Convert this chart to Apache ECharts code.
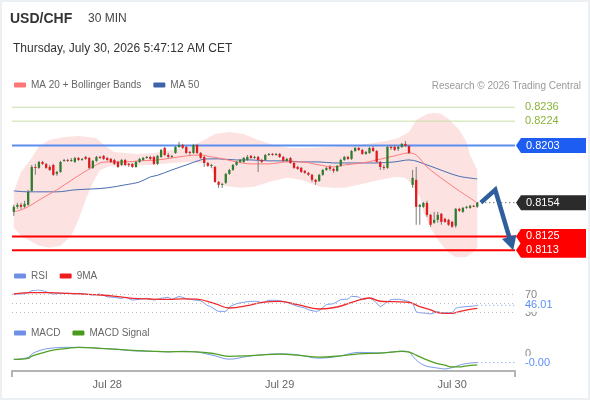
<!DOCTYPE html>
<html><head><meta charset="utf-8">
<script src="https://cdn.jsdelivr.net/npm/echarts/dist/echarts.min.js"></script>
<style>
html,body{margin:0;padding:0;background:#fff;}
#c{width:590px;height:400px;}
#frame{position:absolute;left:0;top:0;width:590px;height:400px;box-sizing:border-box;border:2px solid #edf0f3;pointer-events:none;}
</style></head><body>
<div id="c"></div><div id="frame"></div>
<script>
// ---------- DATA ----------
const dateTicks = {26:'Jul 28', 74:'Jul 29', 122:'Jul 30'};
const SLOTS = 140;
// [open, close, low, high] per 30-min bar
const candles = [
[0.81461,0.81504,0.81427,0.81521],[0.81504,0.81521,0.81487,0.81538],[0.81521,0.81504,0.81487,0.81538],[0.81504,0.81530,0.81495,0.81556],[0.81521,0.81633,0.81513,0.81650],
[0.81641,0.81847,0.81633,0.81864],[0.81847,0.81839,0.81779,0.81873],[0.81839,0.81890,0.81830,0.81899],[0.81890,0.81873,0.81864,0.81899],[0.81873,0.81839,0.81830,0.81881],
[0.81847,0.81821,0.81813,0.81864],[0.81864,0.81779,0.81770,0.81873],[0.81787,0.81804,0.81770,0.81813],[0.81804,0.81890,0.81796,0.81899],[0.81899,0.81907,0.81890,0.81916],
[0.81907,0.81899,0.81890,0.81916],[0.81899,0.81907,0.81890,0.81924],[0.81890,0.81924,0.81881,0.81933],[0.81924,0.81907,0.81899,0.81933],[0.81907,0.81916,0.81899,0.81924],
[0.81933,0.81916,0.81907,0.81942],[0.81924,0.81839,0.81830,0.81933],[0.81839,0.81899,0.81830,0.81907],[0.81899,0.81933,0.81890,0.81942],[0.81933,0.81924,0.81916,0.81942],
[0.81942,0.81916,0.81907,0.81950],[0.81924,0.81907,0.81899,0.81933],[0.81916,0.81890,0.81881,0.81924],[0.81907,0.81873,0.81864,0.81916],[0.81890,0.81847,0.81839,0.81899],
[0.81864,0.81907,0.81856,0.81916],[0.81907,0.81864,0.81856,0.81916],[0.81873,0.81864,0.81847,0.81881],[0.81873,0.81847,0.81839,0.81881],[0.81847,0.81890,0.81839,0.81899],
[0.81890,0.81916,0.81881,0.81924],[0.81907,0.81924,0.81899,0.81933],[0.81924,0.81933,0.81916,0.81942],[0.81933,0.81916,0.81907,0.81942],[0.81933,0.81873,0.81864,0.81942],
[0.81873,0.81942,0.81864,0.81950],[0.81933,0.81993,0.81924,0.82002],[0.82010,0.81950,0.81942,0.82019],[0.81950,0.81933,0.81924,0.81967],[0.81933,0.81942,0.81924,0.81950],
[0.81967,0.82019,0.81959,0.82027],[0.82019,0.82036,0.82010,0.82062],[0.82036,0.82010,0.82002,0.82045],[0.82019,0.81967,0.81959,0.82027],[0.81976,0.81967,0.81950,0.81984],
[0.81967,0.82036,0.81959,0.82045],[0.82036,0.81967,0.81959,0.82045],[0.81967,0.81924,0.81916,0.81976],[0.81933,0.81881,0.81847,0.81942],[0.81881,0.81856,0.81847,0.81890],
[0.81856,0.81864,0.81839,0.81873],[0.81847,0.81718,0.81710,0.81856],[0.81718,0.81693,0.81667,0.81727],[0.81693,0.81701,0.81667,0.81710],[0.81710,0.81787,0.81701,0.81796],
[0.81787,0.81821,0.81779,0.81830],[0.81821,0.81864,0.81813,0.81873],[0.81864,0.81890,0.81856,0.81899],[0.81890,0.81907,0.81881,0.81916],[0.81890,0.81924,0.81881,0.81933],
[0.81907,0.81933,0.81899,0.81950],[0.81942,0.81924,0.81916,0.81950],[0.81924,0.81933,0.81916,0.81942],[0.81933,0.81907,0.81804,0.81942],[0.81907,0.81890,0.81881,0.81916],
[0.81907,0.81950,0.81899,0.81959],[0.81950,0.81959,0.81942,0.81967],[0.81959,0.81950,0.81942,0.81967],[0.81950,0.81959,0.81942,0.81967],[0.81959,0.81933,0.81924,0.81967],
[0.81933,0.81899,0.81890,0.81942],[0.81899,0.81916,0.81890,0.81924],[0.81924,0.81881,0.81873,0.81933],[0.81881,0.81839,0.81830,0.81890],[0.81847,0.81830,0.81821,0.81856],
[0.81839,0.81804,0.81796,0.81847],[0.81813,0.81796,0.81787,0.81821],[0.81796,0.81779,0.81770,0.81804],[0.81779,0.81736,0.81718,0.81787],[0.81736,0.81718,0.81693,0.81744],
[0.81727,0.81779,0.81718,0.81787],[0.81779,0.81821,0.81770,0.81830],[0.81821,0.81839,0.81813,0.81847],[0.81847,0.81830,0.81813,0.81864],[0.81830,0.81813,0.81796,0.81839],
[0.81813,0.81856,0.81804,0.81864],[0.81856,0.81907,0.81847,0.81916],[0.81907,0.81933,0.81899,0.81942],[0.81933,0.81916,0.81907,0.81942],[0.81916,0.81984,0.81907,0.81993],
[0.81984,0.82010,0.81976,0.82019],[0.82010,0.81993,0.81984,0.82019],[0.81993,0.81959,0.81950,0.82002],[0.81959,0.81976,0.81950,0.81984],[0.81967,0.82010,0.81959,0.82019],
[0.82010,0.81984,0.81976,0.82027],[0.81984,0.81890,0.81881,0.81993],[0.81890,0.81847,0.81821,0.81899],[0.81847,0.81839,0.81821,0.81864],[0.81839,0.82019,0.81830,0.82027],
[0.82019,0.82010,0.81993,0.82036],[0.82019,0.81993,0.81984,0.82036],[0.82002,0.82019,0.81984,0.82036],[0.82019,0.82045,0.82010,0.82053],[0.82045,0.82027,0.82019,0.82070],
[0.82027,0.81967,0.81959,0.82036],[0.81693,0.81753,0.81667,0.81821],[0.81736,0.81504,0.81350,0.81847],[0.81504,0.81521,0.81350,0.81530],[0.81504,0.81538,0.81495,0.81547],
[0.81538,0.81435,0.81418,0.81556],[0.81435,0.81350,0.81333,0.81444],[0.81367,0.81392,0.81358,0.81461],[0.81392,0.81435,0.81367,0.81461],[0.81444,0.81375,0.81350,0.81452],
[0.81401,0.81375,0.81367,0.81410],[0.81392,0.81350,0.81341,0.81401],[0.81375,0.81333,0.81324,0.81384],[0.81341,0.81487,0.81324,0.81495],[0.81487,0.81470,0.81461,0.81495],
[0.81461,0.81495,0.81452,0.81504],[0.81495,0.81504,0.81487,0.81513],[0.81495,0.81513,0.81487,0.81521],[0.81513,0.81508,0.81504,0.81521],[0.81504,0.81538,0.81495,0.81547]
];
const ma20 = [[0,0.81461],[2,0.81478],[4,0.81504],[8,0.81581],[12,0.81650],[17,0.81753],[22,0.81847],[24,0.81881],[26,0.81890],[31,0.81890],[35,0.81899],[40,0.81907],[44,0.81924],[48,0.81942],[52,0.81950],[55,0.81933],[57,0.81924],[62,0.81890],[66,0.81873],[71,0.81873],[76,0.81890],[80,0.81890],[85,0.81864],[89,0.81847],[92,0.81864],[97,0.81881],[101,0.81907],[106,0.81942],[110,0.81967],[112,0.81950],[115,0.81847],[120,0.81727],[124,0.81641],[129,0.81538]];
const ma50 = [[0,0.81641],[4,0.81633],[8,0.81633],[12,0.81633],[17,0.81650],[22,0.81658],[26,0.81667],[31,0.81693],[35,0.81718],[38,0.81761],[40,0.81775],[44,0.81821],[48,0.81864],[52,0.81907],[54,0.81916],[57,0.81916],[62,0.81907],[66,0.81907],[71,0.81899],[76,0.81899],[80,0.81890],[85,0.81890],[89,0.81881],[92,0.81881],[97,0.81881],[101,0.81881],[106,0.81890],[110,0.81907],[115,0.81864],[120,0.81807],[124,0.81766],[129,0.81744]];
const bbUpper = [[0,0.81633],[2,0.81804],[5,0.81924],[7,0.82027],[10,0.82079],[14,0.82105],[18,0.82113],[23,0.82096],[25,0.82036],[28,0.81976],[34,0.81959],[39,0.81967],[44,0.81993],[49,0.82019],[53,0.82079],[56,0.82130],[60,0.82147],[64,0.82130],[68,0.82079],[73,0.82027],[77,0.82010],[82,0.82010],[88,0.82019],[92,0.82027],[96,0.82036],[100,0.82053],[105,0.82079],[107,0.82096],[110,0.82147],[112,0.82250],[115,0.82302],[117,0.82310],[119,0.82302],[121,0.82259],[124,0.82164],[126,0.82062],[127,0.81950],[129,0.81821]];
const bbLower = [[0,0.81324],[2,0.81255],[5,0.81204],[7,0.81169],[10,0.81152],[13,0.81169],[16,0.81255],[18,0.81392],[20,0.81564],[22,0.81710],[24,0.81821],[27,0.81856],[32,0.81856],[38,0.81864],[44,0.81881],[49,0.81890],[52,0.81881],[54,0.81881],[56,0.81770],[57,0.81701],[59,0.81684],[63,0.81667],[67,0.81676],[71,0.81718],[76,0.81753],[80,0.81736],[85,0.81676],[89,0.81667],[92,0.81667],[96,0.81693],[102,0.81736],[106,0.81761],[109,0.81753],[111,0.81693],[113,0.81590],[114,0.81461],[116,0.81324],[118,0.81221],[121,0.81109],[123,0.81074],[126,0.81074],[128,0.81118],[129,0.81161]];
const resistanceLevels = [0.8236, 0.8224];
const pivotLevel = 0.8203;
const supportLevels = [0.8125, 0.8113];
const lastPrice = 0.8154;
const projX = [130, 134, 139];
const projY = [0.8154, 0.8165, 0.8113];
const rsi = [[0,71],[2,71],[4,74],[5,78.5],[7,80],[9,76],[11,71],[13,72.6],[15,72.6],[17,71],[18,72.6],[20,71],[22,69],[24,71],[26,65],[28,63.7],[30,61.5],[31,63.7],[33,57.8],[35,59.3],[37,61.5],[39,57.8],[41,61.5],[43,63.7],[44,59.3],[46,65.5],[48,61],[50,58],[52,56],[54,45.2],[55,42.2],[57,32.6],[59,32.6],[60,42.2],[62,49.6],[64,52.6],[66,54.8],[68,54.8],[69,51.1],[71,57],[73,57],[75,54.8],[77,49.6],[79,43.7],[81,40],[82,36.3],[84,32.6],[85,34.1],[87,47.4],[89,49.6],[91,58.5],[93,60],[94,65.9],[96,64.4],[97,58.5],[99,62.2],[101,51.1],[102,43],[103,48],[105,58.5],[107,59.3],[109,56.3],[111,50.4],[112,32],[113,29.6],[115,28.2],[116,26.7],[118,32],[119,29.6],[120,29.6],[122,29.6],[123,39.3],[124,41.5],[126,43],[128,44.5],[129,46.01]];
const rsiMa = [[0,71.1],[5,74.1],[10,74.1],[15,72.6],[19,71.1],[24,68.9],[29,65.2],[33,61.5],[38,60],[43,59.3],[47,60.5],[51,59.5],[56,49.6],[60,40],[65,45.2],[69,52.6],[74,54.8],[79,47.4],[85,37.8],[90,42.2],[95,54.8],[99,62.2],[102,55],[106,54],[110,52.6],[113,43],[116,35.6],[118,29.6],[120,28.2],[122,28.2],[124,32],[127,37],[129,39.3]];
const rsiLevels = [70, 50, 30];
const macd = [[0,-0.00053],[4,-0.00033],[5,0],[7,0.00033],[10,0.00057],[15,0.00067],[19,0.00067],[24,0.00057],[29,0.00047],[33,0.00033],[38,0.00027],[43,0.00023],[47,0.00028],[51,0.0002],[56,-0.00017],[60,-0.0005],[65,-0.00023],[69,-0.00007],[74,0.00003],[79,-0.00007],[85,-0.0004],[91,-0.00017],[96,0.00017],[102,0.00012],[105,0.0002],[108,0.0003],[110,0.00023],[111,-0.0002],[113,-0.00087],[115,-0.0012],[117,-0.00133],[119,-0.00143],[120,-0.00147],[122,-0.00133],[124,-0.0011],[126,-0.00093],[129,-0.00083]];
const macdSignal = [[0,-0.00053],[4,-0.00043],[5,-0.0002],[8,0.00013],[11,0.0004],[15,0.00057],[18,0.00067],[24,0.00057],[29,0.00047],[33,0.00037],[38,0.0003],[43,0.00023],[47,0.00025],[51,0.00023],[56,0.00003],[60,-0.00023],[65,-0.00017],[69,-0.00007],[74,0],[79,-0.0001],[85,-0.0003],[91,-0.00017],[96,0.00003],[102,0.0001],[105,0.0002],[108,0.00027],[110,0.0002],[112,-0.0001],[114,-0.00043],[117,-0.00083],[120,-0.0011],[122,-0.00127],[124,-0.00127],[126,-0.00117],[129,-0.00107]];

// ---------- LAYOUT ----------
const FONT = '"Liberation Sans", Arial, Helvetica, sans-serif';
const X_MIN = -0.5, X_MAX = SLOTS - 0.5;
const G = {left:12, right:75};
const slotCats = Array.from({length:SLOTS}, (_, i) => dateTicks[i] || '');
const lastIdx = candles.length - 1;

const chart = echarts.init(document.getElementById('c'), null, {renderer:'canvas'});

const lineBase = {type:'line', showSymbol:false, symbol:'none', silent:true, animation:false};
const legendBase = {padding:0, itemWidth:12, itemHeight:5, itemGap:12, icon:'roundRect', selectedMode:false,
  textStyle:{fontSize:10, color:'#666', fontFamily:FONT}};

function sideText(text, x, y, color, bg) {
  const s = {text, x, y, fill:color, fontSize:11, fontFamily:FONT, verticalAlign:'middle', textAlign:'left'};
  if (bg) { s.backgroundColor = '#fff'; s.padding = [1,2,1,0]; }
  return {type:'text', style:s};
}

const levelSpecs = [
  ...resistanceLevels.map(v => ({v, stroke:'#c8e0a6', width:1, label:'#8ab43a'})),
  {v: pivotLevel, stroke:'#5b8def', width:2, label:null},
  ...supportLevels.map(v => ({v, stroke:'#ff0000', width:2, label:null}))
];
const tagSpecs = [
  {v: pivotLevel, fill:'#1d5df2'},
  {v: lastPrice, fill:'#2b2b2b'},
  {v: supportLevels[0], fill:'#ff0000'},
  {v: supportLevels[1], fill:'#ff0000'}
];

const option = {
  animation:false,
  backgroundColor:'#fff',
  textStyle:{fontFamily:FONT},
  title:[
    {text:'USD/CHF', left:10, top:12, padding:0, textStyle:{fontSize:14, fontWeight:'bold', color:'#333', fontFamily:FONT}},
    {text:'30 MIN', left:88, top:13, padding:0, textStyle:{fontSize:12, fontWeight:'normal', color:'#444', fontFamily:FONT}},
    {text:'Thursday, July 30, 2026 5:47:12 AM CET', left:13, top:43, padding:0, textStyle:{fontSize:12, fontWeight:'normal', color:'#333', fontFamily:FONT}},
    {text:'Research \u00a9 2026 Trading Central', right:9, top:81, padding:0, textStyle:{fontSize:10, fontWeight:'normal', color:'#9a9a9a', fontFamily:FONT}}
  ],
  legend:[
    Object.assign({data:['MA 20 + Bollinger Bands','MA 50'], left:14, top:80}, legendBase),
    Object.assign({data:['RSI','9MA'], left:14, top:271}, legendBase),
    Object.assign({data:['MACD','MACD Signal'], left:14, top:328}, legendBase)
  ],
  grid:[
    {left:G.left, right:G.right, top:95, height:167, containLabel:false, outerBoundsMode:'none'},
    {left:G.left, right:G.right, top:290, height:27, containLabel:false, outerBoundsMode:'none'},
    {left:G.left, right:G.right, top:344, height:27, containLabel:false, outerBoundsMode:'none'}
  ],
  xAxis:[
    {type:'value', gridIndex:0, min:X_MIN, max:X_MAX, show:false},
    {type:'value', gridIndex:1, min:X_MIN, max:X_MAX, show:false},
    {type:'value', gridIndex:2, min:X_MIN, max:X_MAX, interval:SLOTS, position:'bottom',
      axisLine:{show:true, onZero:false, lineStyle:{color:'#b4b4b4', width:2}},
      axisTick:{show:true, length:6, lineStyle:{color:'#b4b4b4', width:2}},
      axisLabel:{show:false}, splitLine:{show:false}},
    {type:'category', gridIndex:2, data:slotCats, position:'bottom', boundaryGap:true,
      axisLine:{show:false, onZero:false}, axisTick:{show:false}, splitLine:{show:false},
      axisLabel:{show:true, interval:(idx) => !!dateTicks[idx], color:'#666', fontSize:11, fontFamily:FONT, margin:8}}
  ],
  yAxis:[
    {type:'value', gridIndex:0, min:0.8103, max:0.82465, show:false},
    {type:'value', gridIndex:1, min:20, max:80, show:false},
    {type:'value', gridIndex:2, min:-0.00167, max:0.001, show:false}
  ],
  series:[
    // Bollinger band fill
    {type:'custom', name:'BB', xAxisIndex:0, yAxisIndex:0, silent:true, z:1, data:[[0]],
      renderItem:(params, api) => {
        const pts = bbUpper.map(p => api.coord(p)).concat(bbLower.slice().reverse().map(p => api.coord(p)));
        return {type:'polygon', shape:{points:pts}, style:{fill:'#fde2e2'}};
      }},
    // horizontal levels
    {type:'custom', name:'levels', xAxisIndex:0, yAxisIndex:0, silent:true, clip:false, z:2,
      data:levelSpecs.map(s => [X_MIN, s.v]),
      renderItem:(params, api) => {
        const s = levelSpecs[params.dataIndex];
        const a = api.coord([X_MIN, api.value(1)]), b = api.coord([X_MAX, api.value(1)]);
        const kids = [{type:'line', shape:{x1:a[0], y1:a[1], x2:b[0], y2:b[1]}, style:{stroke:s.stroke, lineWidth:s.width}}];
        if (s.label) kids.push(sideText(api.value(1).toFixed(4), b[0]+10, b[1], s.label, false));
        return {type:'group', children:kids};
      }},
    Object.assign({}, lineBase, {name:'MA 50', xAxisIndex:0, yAxisIndex:0, data:ma50, smooth:0.35, z:3,
      color:'#3d64aa', lineStyle:{color:'#4a6db0', width:1}}),
    Object.assign({}, lineBase, {name:'MA 20 + Bollinger Bands', xAxisIndex:0, yAxisIndex:0, data:ma20, smooth:0.35, z:3,
      color:'#ff7676', lineStyle:{color:'#ff7b7b', width:1}}),
    // candles
    {type:'custom', name:'USD/CHF', xAxisIndex:0, yAxisIndex:0, z:5, silent:true,
      encode:{x:0, y:[1,2,3,4]},
      data:candles.map((d, i) => [i, d[0], d[1], d[2], d[3]]),
      renderItem:(params, api) => {
        const i = api.value(0), o = api.value(1), c = api.value(2), l = api.value(3), h = api.value(4);
        const po = api.coord([i,o]), pc = api.coord([i,c]), pl = api.coord([i,l]), ph = api.coord([i,h]);
        const w = api.size([1,0])[0] * 0.64;
        const x = po[0];
        const top = Math.min(po[1], pc[1]);
        const hgt = Math.max(Math.abs(po[1]-pc[1]), 1);
        const up = c >= o;
        return {type:'group', children:[
          {type:'line', shape:{x1:x, y1:ph[1], x2:x, y2:pl[1]}, style:{stroke:'#7a7a7a', lineWidth:1}},
          {type:'rect', shape:{x:x-w/2, y:top, width:w, height:hgt}, style:{fill: up ? '#2e7d2e' : '#e3191c'}}
        ]};
      }},
    // dotted last-price line
    Object.assign({}, lineBase, {name:'last', xAxisIndex:0, yAxisIndex:0, z:4,
      data:[[lastIdx, lastPrice],[X_MAX, lastPrice]], lineStyle:{color:'#444', width:1, type:[1,3]}}),
    // projection arrow
    {type:'custom', name:'proj', xAxisIndex:0, yAxisIndex:0, clip:false, z:15, silent:true, data:[[projX[0], projY[0]]],
      renderItem:(params, api) => {
        const pts = projX.map((x, k) => api.coord([x, projY[k]]));
        const n = pts.length, tip = pts[n-1], prev = pts[n-2];
        const dx = tip[0]-prev[0], dy = tip[1]-prev[1], len = Math.hypot(dx, dy);
        const ux = dx/len, uy = dy/len, headLen = 14, headW = 7.5;
        const base = [tip[0]-ux*headLen, tip[1]-uy*headLen];
        return {type:'group', children:[
          {type:'polyline', shape:{points:pts.slice(0, n-1).concat([[base[0]+ux*2, base[1]+uy*2]])},
            style:{stroke:'#2f5e9c', lineWidth:4.5, fill:null, lineJoin:'miter'}},
          {type:'polygon', shape:{points:[tip, [base[0]-uy*headW, base[1]+ux*headW], [base[0]+uy*headW, base[1]-ux*headW]]},
            style:{fill:'#2f5e9c'}}
        ]};
      }},
    // price tags
    {type:'custom', name:'tags', xAxisIndex:0, yAxisIndex:0, clip:false, z:20, silent:true,
      data:tagSpecs.map(t => [X_MAX, t.v]),
      renderItem:(params, api) => {
        const t = tagSpecs[params.dataIndex];
        const p = api.coord([api.value(0), api.value(1)]);
        const x = p[0], y = p[1];
        return {type:'group', children:[
          {type:'polygon', shape:{points:[[x+1,y],[x+6,y-7.5],[x+71,y-7.5],[x+71,y+7.5],[x+6,y+7.5]]}, style:{fill:t.fill}},
          {type:'text', style:{text:api.value(1).toFixed(4), x:x+11, y:y, fill:'#fff', fontSize:11, fontFamily:FONT, verticalAlign:'middle', textAlign:'left'}}
        ]};
      }},
    // RSI
    Object.assign({}, lineBase, {name:'RSI', xAxisIndex:1, yAxisIndex:1, data:rsi, smooth:0.2, z:3,
      color:'#6f8fe6', lineStyle:{color:'#7899ea', width:1},
      markLine:{silent:true, symbol:['none','none'], animation:false, label:{show:false},
        lineStyle:{color:'#bdbdbd', width:1, type:[1,3]},
        data:rsiLevels.map(v => ({yAxis:v}))}}),
    Object.assign({}, lineBase, {name:'9MA', xAxisIndex:1, yAxisIndex:1, data:rsiMa, smooth:0.4, z:4,
      color:'#ee1c1c', lineStyle:{color:'#f02a2a', width:1.3}}),
    {type:'custom', name:'rsiSide', xAxisIndex:1, yAxisIndex:1, clip:false, z:20, silent:true,
      data:[rsi[rsi.length-1]],
      renderItem:(params, api) => {
        const p = api.coord([api.value(0), api.value(1)]);
        const e = api.coord([X_MAX, api.value(1)]);
        const l70 = api.coord([X_MAX, rsiLevels[0]]), l30 = api.coord([X_MAX, rsiLevels[2]]);
        return {type:'group', children:[
          sideText(String(rsiLevels[0]), l70[0]+10, l70[1], '#888', false),
          sideText(String(rsiLevels[2]), l30[0]+10, l30[1], '#888', false),
          {type:'line', shape:{x1:p[0], y1:p[1], x2:e[0], y2:e[1]}, style:{stroke:'#7899ea', lineWidth:1, lineDash:[1,3]}},
          sideText(api.value(1).toFixed(2), e[0]+10, e[1], '#5b8ff9', true)
        ]};
      }},
    // MACD
    Object.assign({}, lineBase, {name:'MACD', xAxisIndex:2, yAxisIndex:2, data:macd, smooth:0.4, z:3,
      color:'#6f8fe6', lineStyle:{color:'#7899ea', width:1}}),
    Object.assign({}, lineBase, {name:'MACD Signal', xAxisIndex:2, yAxisIndex:2, data:macdSignal, smooth:0.4, z:4,
      color:'#4a9a1c', lineStyle:{color:'#52a024', width:1.3}}),
    {type:'custom', name:'macdSide', xAxisIndex:2, yAxisIndex:2, clip:false, z:20, silent:true,
      data:[macd[macd.length-1]],
      renderItem:(params, api) => {
        const p = api.coord([api.value(0), api.value(1)]);
        const e = api.coord([X_MAX, api.value(1)]);
        const z0 = api.coord([X_MAX, 0]);
        return {type:'group', children:[
          sideText('0', z0[0]+10, z0[1], '#888', false),
          {type:'line', shape:{x1:p[0], y1:p[1], x2:e[0], y2:e[1]}, style:{stroke:'#7899ea', lineWidth:1, lineDash:[1,3]}},
          sideText(api.value(1).toFixed(2), e[0]+10, e[1], '#5b8ff9', true)
        ]};
      }}
  ]
};
chart.setOption(option);
</script>
</body></html>
